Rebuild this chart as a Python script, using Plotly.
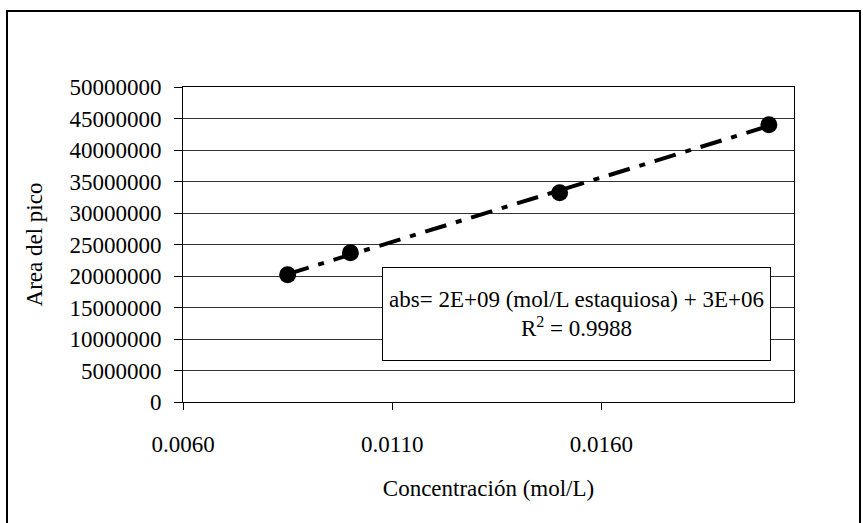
import numpy as np
import plotly.graph_objects as go

# Data
concentracion = [0.0085, 0.0100, 0.0150, 0.0200]          # mol/L
area_pico = [20200000, 23700000, 33200000, 44000000]
y_ticks = [0, 5000000, 10000000, 15000000, 20000000, 25000000,
           30000000, 35000000, 40000000, 45000000, 50000000]
x_ticks = [0.0060, 0.0110, 0.0160]
eq_text = "abs= 2E+09 (mol/L estaquiosa) + 3E+06"
r2_text = "R<sup>2</sup> = 0.9988"

W, H = 863, 523
L, R, T, B = 183, 794, 87, 402   # plot area pixel bounds
XMIN, XMAX = 0.006, 0.0206
FONT = "Liberation Serif"
FS = 23

# Linear trendline from the data
slope, intercept = np.polyfit(concentracion, area_pico, 1)
tx = [min(concentracion), max(concentracion)]
ty = [slope * v + intercept for v in tx]

fig = go.Figure()
fig.add_trace(go.Scatter(x=tx, y=ty, mode="lines",
                         line=dict(color="black", width=4, dash="22px,10px,6px,10px"),
                         hoverinfo="skip", showlegend=False))
fig.add_trace(go.Scatter(x=concentracion, y=area_pico, mode="markers",
                         marker=dict(color="black", size=17, symbol="circle"),
                         showlegend=False))

def px_x(p):
    return (p - L) / (R - L)

def px_y(p):
    return (B - p) / (B - T)

# outer frame
fig.add_shape(type="rect", xref="paper", yref="paper",
              x0=px_x(7), x1=px_x(860), y0=px_y(540), y1=px_y(11),
              line=dict(color="black", width=2), fillcolor="rgba(0,0,0,0)", layer="above")

# equation box
fig.add_annotation(xref="paper", yref="paper",
                   x=px_x(576), y=px_y(314), xanchor="center", yanchor="middle",
                   text=eq_text + "<br>" + r2_text, showarrow=False,
                   font=dict(family=FONT, size=FS, color="black"),
                   align="center", bgcolor="white", bordercolor="black", borderwidth=1,
                   borderpad=3, width=381, height=86)

fig.update_layout(
    width=W, height=H,
    margin=dict(l=L, r=W - R, t=T, b=H - B, autoexpand=False),
    paper_bgcolor="white", plot_bgcolor="white",
    font=dict(family=FONT, size=FS, color="black"),
    xaxis=dict(range=[XMIN, XMAX], tickvals=x_ticks, tickformat=".4f",
               showgrid=False, zeroline=False, showline=True, linecolor="black",
               linewidth=1, mirror=True, ticks="outside", ticklen=7, tickcolor="black",
               ticklabelstandoff=14,
               title=dict(text="Concentración (mol/L)", standoff=24,
                          font=dict(family=FONT, size=FS))),
    yaxis=dict(range=[0, 50000000], tickvals=y_ticks, tickformat="d",
               showgrid=True, gridcolor="#333", gridwidth=1,
               zeroline=False, showline=True, linecolor="black",
               linewidth=1, mirror=True, ticks="outside", ticklen=8, tickcolor="black",
               ticklabelstandoff=8,
               title=dict(text="Area del pico", standoff=20,
                          font=dict(family=FONT, size=FS))),
)

fig.write_html("out.html")
